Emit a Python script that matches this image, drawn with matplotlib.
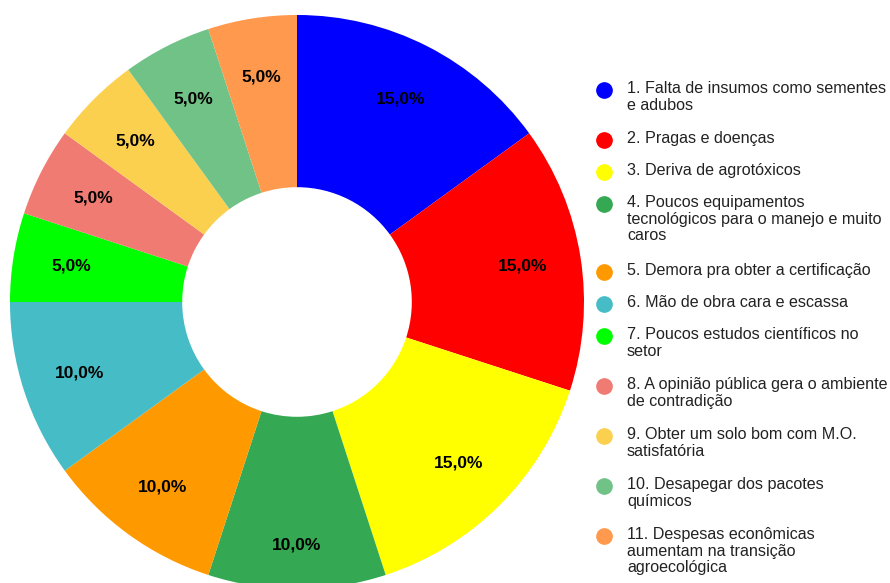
import numpy as np
import matplotlib
matplotlib.use("Agg")
import matplotlib.pyplot as plt

labels = [
    "1. Falta de insumos como sementes\ne adubos",
    "2. Pragas e doenças",
    "3. Deriva de agrotóxicos",
    "4. Poucos equipamentos\ntecnológicos para o manejo e muito\ncaros",
    "5. Demora pra obter a certificação",
    "6. Mão de obra cara e escassa",
    "7. Poucos estudos científicos no\nsetor",
    "8. A opinião pública gera o ambiente\nde contradição",
    "9. Obter um solo bom com M.O.\nsatisfatória",
    "10. Desapegar dos pacotes\nquímicos",
    "11. Despesas econômicas\naumentam na transição\nagroecológica",
]
values = [15, 15, 15, 10, 10, 10, 5, 5, 5, 5, 5]
colors = ["#0000ff", "#ff0000", "#ffff00", "#34a853", "#ff9900", "#46bdc6",
          "#00ff00", "#f07b72", "#fcd04f", "#71c287", "#ff994d"]

fig = plt.figure(figsize=(8.9, 5.83), dpi=100)
ax = fig.add_axes([0.0112, -0.0103, 0.645, 0.9846])

wedges, texts, autotexts = ax.pie(
    values, colors=colors, startangle=90, counterclock=False,
    radius=1.0, pctdistance=0.795,
    autopct=lambda p: f"{p:.1f}%".replace(".", ","),
    wedgeprops=dict(width=0.6, linewidth=0),
    textprops=dict(fontsize=12.5, fontweight="bold", family="Liberation Sans"),
)
# the bottom label sits a bit further out in the original
w = wedges[3]
mid = np.deg2rad((w.theta1 + w.theta2) / 2)
autotexts[3].set_position((0.845 * np.cos(mid), 0.845 * np.sin(mid)))

ax.set_xlim(-1, 1)
ax.set_ylim(-1, 1)
ax.set_aspect("equal")
ax.axis("off")

# legend drawn by hand to match the wrapped entries
line_h = 18 / 583
gap = 14 / 583
y = 1 - 90 / 583
for lab, col in zip(labels, colors):
    n = lab.count("\n") + 1
    fig.text(627 / 890, y + 9 / 583, lab, fontsize=11.6, family="Liberation Sans",
             color="#222222", va="top", ha="left", linespacing=1.13)
    fig.add_artist(plt.Line2D([604 / 890], [y], marker="o", markersize=11,
                              color=col, transform=fig.transFigure, linestyle=""))
    y -= n * line_h + gap

fig.savefig("out.png", dpi=100)
